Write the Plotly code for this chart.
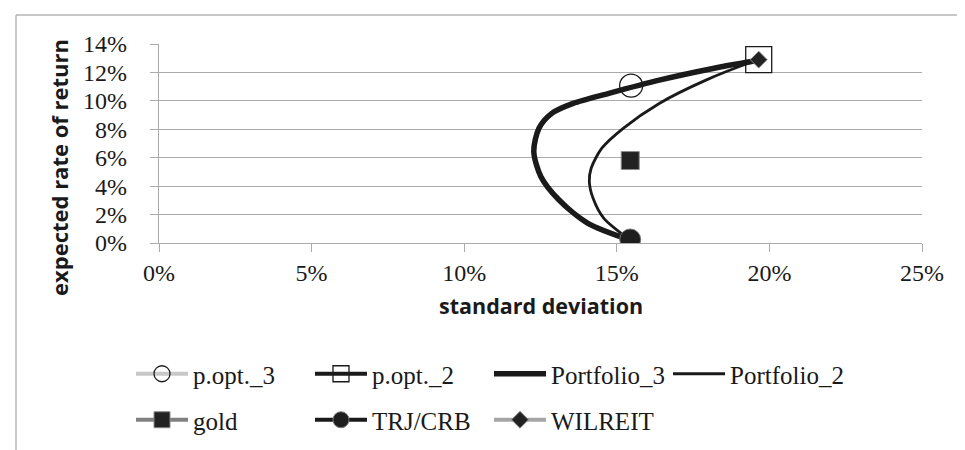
import plotly.graph_objects as go

# ---- data (standard deviation, expected return), in fractions ----
port3_sd = [0.1544, 0.1404, 0.1310, 0.1251, 0.1228, 0.1245, 0.1287, 0.1357, 0.1474, 0.1639, 0.1815, 0.1944, 0.1965]
port3_ret = [0.0020, 0.0140, 0.0304, 0.0468, 0.0644, 0.0807, 0.0912, 0.0982, 0.1053, 0.1146, 0.1228, 0.1279, 0.1290]

port2_sd = [0.1544, 0.1457, 0.1422, 0.1410, 0.1416, 0.1451, 0.1521, 0.1639, 0.1792, 0.1944, 0.1965]
port2_ret = [0.0020, 0.0175, 0.0316, 0.0433, 0.0526, 0.0667, 0.0807, 0.0982, 0.1146, 0.1275, 0.1290]

popt3_sd, popt3_ret = [0.1547], [0.1107]
popt2_sd, popt2_ret = [0.1965], [0.1290]
gold_sd, gold_ret = [0.1544], [0.0580]
trj_sd, trj_ret = [0.1544], [0.0025]
wil_sd, wil_ret = [0.1965], [0.1290]

x_ticks = [0, 0.05, 0.10, 0.15, 0.20, 0.25]
x_labels = ["0%", "5%", "10%", "15%", "20%", "25%"]
y_ticks = [0, 0.02, 0.04, 0.06, 0.08, 0.10, 0.12, 0.14]
y_labels = ["0%", "2%", "4%", "6%", "8%", "10%", "12%", "14%"]

DARK = "#1a1a1a"
GRID = "#ababab"
SERIF = "Liberation Serif"

fig = go.Figure()

fig.add_trace(go.Scatter(x=popt3_sd, y=popt3_ret, name="p.opt._3", mode="lines+markers",
                         line=dict(color="#c8c8c8", width=4),
                         marker=dict(symbol="circle", size=23, color="rgba(255,255,255,0)",
                                     line=dict(color=DARK, width=1.3)),
                         legend="legend", legendrank=1))
fig.add_trace(go.Scatter(x=port3_sd, y=port3_ret, name="Portfolio_3", mode="lines",
                         line=dict(color=DARK, width=5.5, shape="spline", smoothing=0.8),
                         legend="legend", legendrank=3))
fig.add_trace(go.Scatter(x=port2_sd, y=port2_ret, name="Portfolio_2", mode="lines",
                         line=dict(color=DARK, width=2.8, shape="spline", smoothing=0.8),
                         legend="legend", legendrank=4))
fig.add_trace(go.Scatter(x=popt2_sd, y=popt2_ret, name="p.opt._2", mode="lines+markers",
                         line=dict(color=DARK, width=4),
                         marker=dict(symbol="square-open", size=26, color=DARK,
                                     line=dict(color=DARK, width=1.3)),
                         legend="legend", legendrank=2))
fig.add_trace(go.Scatter(x=gold_sd, y=gold_ret, name="gold", mode="lines+markers",
                         line=dict(color="#808080", width=4),
                         marker=dict(symbol="square", size=18, color="#222222",
                                     line=dict(color="#8a8a8a", width=1)),
                         legend="legend2", legendrank=1))
fig.add_trace(go.Scatter(x=trj_sd, y=trj_ret, name="TRJ/CRB", mode="lines+markers",
                         line=dict(color=DARK, width=4),
                         marker=dict(symbol="circle", size=21, color="#1e1e1e",
                                     line=dict(color="#7a7a7a", width=1)),
                         legend="legend2", legendrank=2))
fig.add_trace(go.Scatter(x=wil_sd, y=wil_ret, name="WILREIT", mode="lines+markers",
                         line=dict(color="#a6a6a6", width=4),
                         marker=dict(symbol="diamond", size=13, color="#222222",
                                     line=dict(color="#8a8a8a", width=1)),
                         legend="legend2", legendrank=3))

L, R, T, B = 151, 51, 36, 215
W, H = 965, 450
pw, ph = W - L - R, H - T - B

def px2x(px):
    return (px - L) / pw

def py2y(py):
    return (H - B - py) / ph

legend_common = dict(orientation="h", font=dict(family=SERIF, size=25, color=DARK),
                     itemwidth=52, entrywidth=112, entrywidthmode="pixels",
                     bgcolor="rgba(0,0,0,0)", xanchor="left", yanchor="middle",
                     itemclick=False, tracegroupgap=0)

tickfont = dict(family=SERIF, size=24, color=DARK)

fig.update_layout(
    width=W, height=H,
    margin=dict(l=L, r=R, t=T, b=B),
    paper_bgcolor="white", plot_bgcolor="white",
    font=dict(family=SERIF, size=24, color=DARK),
    showlegend=True,
    legend=dict(x=px2x(123), y=py2y(366), **legend_common),
    legend2=dict(x=px2x(123), y=py2y(412), **legend_common),
    xaxis=dict(range=[0, 0.25], tickmode="array", tickvals=x_ticks, ticktext=x_labels,
               showgrid=False, zeroline=False, showline=True, linecolor=GRID, linewidth=1.3,
               ticks="outside", ticklen=8, tickcolor=GRID, tickwidth=1.3,
               tickfont=tickfont, ticklabelstandoff=0, fixedrange=True),
    yaxis=dict(range=[0, 0.14], tickmode="array", tickvals=y_ticks, ticktext=y_labels,
               showgrid=True, gridcolor=GRID, gridwidth=1.3, zeroline=False,
               showline=True, linecolor=GRID, linewidth=1.3,
               ticks="outside", ticklen=8, tickcolor=GRID, tickwidth=1.3,
               tickfont=tickfont, ticklabelstandoff=18, fixedrange=True),
    annotations=[
        dict(text="<b>standard deviation</b>", xref="paper", yref="paper",
             x=0.5, y=py2y(297), xanchor="center", yanchor="middle", showarrow=False,
             font=dict(family="Open Sans", size=21.5, color=DARK)),
        dict(text="<b>expected rate of return</b>", xref="paper", yref="paper",
             x=px2x(51), y=py2y(160), xanchor="center", yanchor="middle", showarrow=False,
             textangle=-90, font=dict(family="Open Sans", size=22, color=DARK)),
    ],
    shapes=[
        dict(type="line", xref="paper", yref="paper", x0=px2x(8), x1=px2x(966), y0=py2y(7), y1=py2y(7),
             line=dict(color="#b5b5b5", width=1.5)),
        dict(type="line", xref="paper", yref="paper", x0=px2x(8), x1=px2x(8), y0=py2y(7), y1=py2y(451),
             line=dict(color="#b5b5b5", width=1.5)),
    ],
)

fig.write_html("out.html", config={"displayModeBar": False})
